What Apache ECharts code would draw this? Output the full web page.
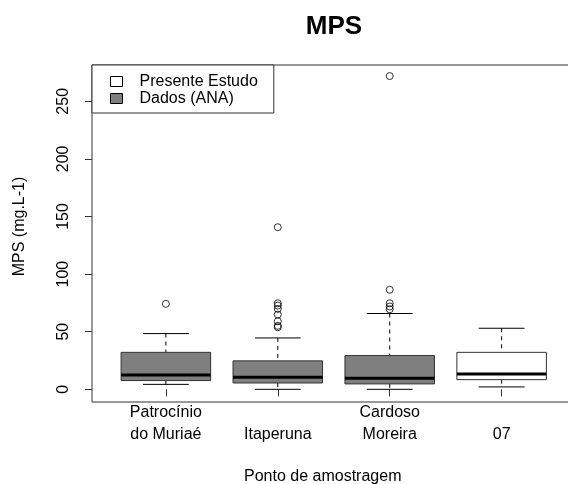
<!DOCTYPE html>
<html>
<head>
<meta charset="utf-8">
<script src="https://cdn.jsdelivr.net/npm/echarts@6/dist/echarts.min.js"></script>
<style>
  html, body { margin: 0; padding: 0; background: #fff; }
  #chart { width: 568px; height: 484px; }
</style>
</head>
<body>
<div id="chart"></div>
<script>
// values
const categories = ["Patrocínio\ndo Muriaé", "Itaperuna", "Cardoso\nMoreira", "07"];
// [lower whisker, Q1, median, Q3, upper whisker]
const boxStats = [
  [4.3, 7.6, 12.5, 32.1, 48.4],
  [0, 5.5, 10.4, 24.7, 44.6],
  [0, 4.7, 9.6, 29.3, 65.8],
  [2.1, 8.4, 13.4, 32.1, 53]
];
const boxGroup = ["Dados (ANA)", "Dados (ANA)", "Dados (ANA)", "Presente Estudo"];
const outliers = [
  [74.2],
  [140.7, 74.7, 72.7, 69.8, 64.9, 59.1, 55.1, 53.9],
  [271.9, 86.4, 74.7, 71.9, 69.5],
  []
];
const yTicks = [0, 50, 100, 150, 200, 250];
const xTicks = [1, 2, 3, 4];

const groupColor = { "Presente Estudo": "#ffffff", "Dados (ANA)": "#7f7f7f" };
const font = "Liberation Sans, Arial, sans-serif";

function boxData(group) {
  const out = [];
  boxStats.forEach((s, i) => {
    if (boxGroup[i] === group) out.push([i + 1].concat(s));
  });
  return out;
}

let outlierPoints = [];
outliers.forEach((list, i) => {
  list.forEach((v) => outlierPoints.push([i + 1, v]));
});

function renderBox(params, api) {
  const x = api.value(0);
  const lo = api.coord([x, api.value(1)]);
  const q1 = api.coord([x, api.value(2)]);
  const med = api.coord([x, api.value(3)]);
  const q3 = api.coord([x, api.value(4)]);
  const hi = api.coord([x, api.value(5)]);
  const w = api.size([0.8, 0])[0];
  const cap = api.size([0.41, 0])[0];
  const cx = lo[0];
  const dash = { stroke: "#000", lineWidth: 1, lineDash: [4, 4] };
  const solid = { stroke: "#000", lineWidth: 1 };
  return {
    type: "group",
    children: [
      { type: "line", shape: { x1: cx, y1: hi[1], x2: cx, y2: q3[1] }, style: dash },
      { type: "line", shape: { x1: cx, y1: q1[1], x2: cx, y2: lo[1] }, style: dash },
      { type: "line", shape: { x1: cx - cap / 2, y1: hi[1], x2: cx + cap / 2, y2: hi[1] }, style: solid },
      { type: "line", shape: { x1: cx - cap / 2, y1: lo[1], x2: cx + cap / 2, y2: lo[1] }, style: solid },
      {
        type: "rect",
        shape: { x: cx - w / 2, y: q3[1], width: w, height: q1[1] - q3[1] },
        style: { fill: api.visual("color"), stroke: "#333", lineWidth: 1 }
      },
      { type: "line", shape: { x1: cx - w / 2, y1: med[1], x2: cx + w / 2, y2: med[1] }, style: { stroke: "#000", lineWidth: 3 } }
    ]
  };
}

const chart = echarts.init(document.getElementById("chart"), null, { renderer: "canvas" });
chart.setOption({
  animation: false,
  backgroundColor: "#fff",
  textStyle: { fontFamily: font },
  title: {
    text: "MPS",
    left: 329,
    textAlign: "center",
    top: 9,
    textStyle: { fontFamily: font, fontSize: 26, fontWeight: "bold", color: "#000" }
  },
  legend: {
    left: 92,
    top: 65,
    orient: "vertical",
    itemWidth: 12,
    itemHeight: 10,
    itemGap: 0,
    padding: [8, 16, 6, 18],
    borderColor: "#333",
    borderWidth: 1,
    backgroundColor: "#fff",
    selectedMode: false,
    textStyle: { fontFamily: font, fontSize: 16, lineHeight: 17, color: "#000", padding: [0, 0, 0, 12] },
    data: [
      { name: "Presente Estudo", icon: "rect", itemStyle: { color: "#fff", borderColor: "#000", borderWidth: 1 } },
      { name: "Dados (ANA)", icon: "rect", itemStyle: { color: "#7f7f7f", borderColor: "#000", borderWidth: 1 } }
    ]
  },
  grid: {
    left: 92,
    width: 483.5,
    top: 65,
    bottom: 82,
    outerBoundsMode: "none",
    show: true,
    borderColor: "#333",
    borderWidth: 1,
    backgroundColor: "transparent"
  },
  xAxis: {
    type: "value",
    min: 0.34,
    max: 4.66,
    splitLine: { show: false },
    axisLine: { show: false },
    axisTick: { show: true, customValues: xTicks, length: 7, lineStyle: { color: "#333" } },
    axisLabel: {
      customValues: xTicks,
      formatter: (v) => categories[Math.round(v) - 1],
      fontFamily: font,
      fontSize: 16,
      lineHeight: 22,
      verticalAlign: "bottom",
      margin: 44,
      color: "#000"
    },
    name: "Ponto de amostragem",
    nameLocation: "middle",
    nameGap: 67,
    nameTextStyle: { fontFamily: font, fontSize: 16, color: "#000", padding: [0, 22, 0, 0] }
  },
  yAxis: {
    type: "value",
    min: -11,
    max: 281.5,
    splitLine: { show: false },
    axisLine: { show: false },
    axisTick: { show: true, customValues: yTicks, length: 7, lineStyle: { color: "#333" } },
    axisLabel: {
      customValues: yTicks,
      rotate: 90,
      fontFamily: font,
      fontSize: 16,
      margin: 20,
      color: "#000"
    },
    name: "MPS (mg.L-1)",
    nameLocation: "middle",
    nameGap: 64,
    nameRotate: 90,
    nameTextStyle: { fontFamily: font, fontSize: 16, color: "#000", padding: [0, 0, 0, 14] }
  },
  series: [
    {
      name: "Dados (ANA)",
      type: "custom",
      renderItem: renderBox,
      itemStyle: { color: groupColor["Dados (ANA)"] },
      encode: { x: 0, y: [1, 2, 3, 4, 5] },
      data: boxData("Dados (ANA)")
    },
    {
      name: "Presente Estudo",
      type: "custom",
      renderItem: renderBox,
      itemStyle: { color: groupColor["Presente Estudo"] },
      encode: { x: 0, y: [1, 2, 3, 4, 5] },
      data: boxData("Presente Estudo")
    },
    {
      name: "outliers",
      type: "scatter",
      symbol: "circle",
      symbolSize: 7,
      itemStyle: { color: "rgba(0,0,0,0)", borderColor: "#000", borderWidth: 1 },
      data: outlierPoints
    }
  ]
});
</script>
</body>
</html>
